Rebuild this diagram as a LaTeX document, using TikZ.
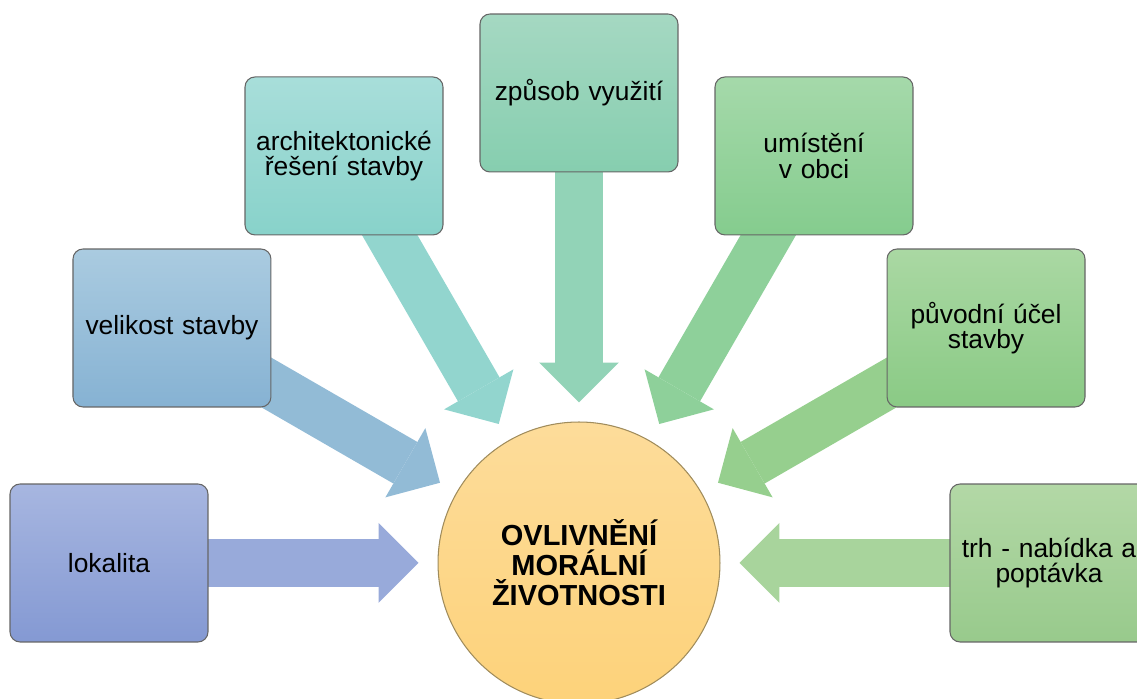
\documentclass[tikz,border=0pt]{standalone}
\usepackage{fontspec}
\setmainfont{Liberation Sans}
\usetikzlibrary{calc}
\usetikzlibrary{arrows.meta}

\pgfdeclarelayer{back}
\pgfsetlayers{back,main}

\definecolor{lokTop}{HTML}{A7B6E0}\definecolor{lokBot}{HTML}{8499D3}\definecolor{lokArr}{HTML}{98AADA}
\definecolor{velTop}{HTML}{AACBE0}\definecolor{velBot}{HTML}{86B2D3}\definecolor{velArr}{HTML}{92BBD6}
\definecolor{archTop}{HTML}{A8DEDA}\definecolor{archBot}{HTML}{88D2CA}\definecolor{archArr}{HTML}{92D5CE}
\definecolor{zpTop}{HTML}{A5D8C2}\definecolor{zpBot}{HTML}{86CEAF}\definecolor{zpArr}{HTML}{92D3B7}
\definecolor{umTop}{HTML}{A5D9AA}\definecolor{umBot}{HTML}{85CC8E}\definecolor{umArr}{HTML}{8ED09A}
\definecolor{puvTop}{HTML}{AAD8A3}\definecolor{puvBot}{HTML}{8ACA85}\definecolor{puvArr}{HTML}{96CF8E}
\definecolor{trhTop}{HTML}{B3D8A6}\definecolor{trhBot}{HTML}{98CA8C}\definecolor{trhArr}{HTML}{A8D49C}
\definecolor{kruhTop}{HTML}{FDDC9A}\definecolor{kruhBot}{HTML}{FDD27A}\definecolor{kruhLine}{HTML}{A08C5C}

\begin{document}
\begin{tikzpicture}[x=0.02cm, y=0.02cm,
    box/.style={draw=black!60, line width=0.6pt, rounded corners=0.2cm,
      minimum width=3.96cm, minimum height=3.16cm, text width=3.8cm,
      align=center, inner sep=0pt, font=\fontsize{15}{14.5}\selectfont},
    fat/.style={line width=0.96cm, shorten >=0.38cm,
      -{Triangle[length=0.8cm, width=1.6cm, line width=0pt]}}]

    \useasboundingbox (0, 0) rectangle (1137, 699);

    \node[circle, draw=kruhLine, line width=0.6pt, top color=kruhTop, bottom color=kruhBot,
      minimum size=5.64cm, inner sep=0pt, align=center,
      font=\bfseries\fontsize{16.5}{17}\selectfont] (centre) at (579, 136)
      {OVLIVNĚNÍ\\MORÁLNÍ\\ŽIVOTNOSTI};

    \node[box, top color=lokTop, bottom color=lokBot] (lok) at ([shift={(180:470)}]centre) {lokalita};
    \node[box, top color=velTop, bottom color=velBot] (vel) at ([shift={(150:470)}]centre) {velikost stavby};
    \node[box, top color=archTop, bottom color=archBot] (arch) at ([shift={(120:470)}]centre) {architektonické\\řešení stavby};
    \node[box, top color=zpTop, bottom color=zpBot] (zp) at ([shift={(90:470)}]centre) {způsob využití};
    \node[box, top color=umTop, bottom color=umBot] (um) at ([shift={(60:470)}]centre) {umístění\\v obci};
    \node[box, top color=puvTop, bottom color=puvBot] (puv) at ([shift={(30:470)}]centre) {původní účel\\stavby};
    \node[box, top color=trhTop, bottom color=trhBot] (trh) at ([shift={(0:470)}]centre) {trh - nabídka a\\poptávka};

    % sipky do stredu
    \begin{pgfonlayer}{back}
      \foreach \b/\c in {lok/lokArr, vel/velArr, arch/archArr, zp/zpArr, um/umArr, puv/puvArr, trh/trhArr}{
        \draw[fat, color=\c] (\b.center) -- (centre);
      }
    \end{pgfonlayer}
\end{tikzpicture}
\end{document}
